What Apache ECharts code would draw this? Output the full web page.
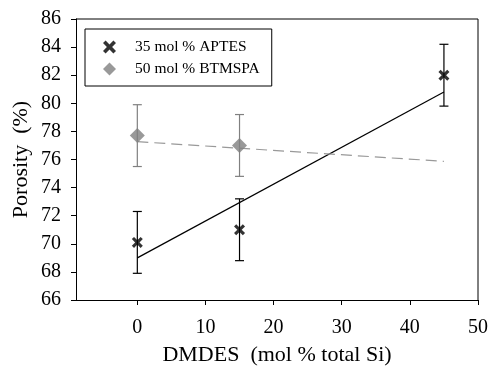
<!DOCTYPE html>
<html><head><meta charset="utf-8">
<script src="https://cdn.jsdelivr.net/npm/echarts@6/dist/echarts.min.js"></script>
<style>html,body{margin:0;padding:0;background:#fff}#c{width:490px;height:366px}</style>
</head><body><div id="c"></div>
<script>
const xTicks = [0, 10, 20, 30, 40, 50];
const aptesX = [0, 15, 45];
const aptesY = [70.1, 71.0, 82.0];
const aptesErr = [2.2, 2.2, 2.2];
const btmspaX = [0, 15];
const btmspaY = [77.7, 77.0];
const btmspaErr = [2.2, 2.2];
const aptesTrend = [[0, 69.0], [45, 80.8]];
const btmspaTrend = [[0, 77.27], [45, 75.87]];
const seriesNames = ['35 mol % APTES', '50 mol % BTMSPA'];

const FONT = 'Liberation Serif';
const xPath = 'path://M0,2 L2,0 L5,3 L8,0 L10,2 L7,5 L10,8 L8,10 L5,7 L2,10 L0,8 L3,5 Z';

function errSeries(xs, ys, es, color) {
  return {
    type: 'custom',
    silent: true,
    z: 1,
    data: xs.map((x, i) => [x, ys[i] - es[i], ys[i] + es[i]]),
    renderItem: function (params, api) {
      const lo = api.coord([api.value(0), api.value(1)]);
      const hi = api.coord([api.value(0), api.value(2)]);
      const w = 4.5;
      const st = { stroke: color, lineWidth: 1.2 };
      return {
        type: 'group',
        children: [
          { type: 'line', shape: { x1: lo[0], y1: lo[1], x2: hi[0], y2: hi[1] }, style: st },
          { type: 'line', shape: { x1: lo[0] - w, y1: lo[1], x2: lo[0] + w, y2: lo[1] }, style: st },
          { type: 'line', shape: { x1: hi[0] - w, y1: hi[1], x2: hi[0] + w, y2: hi[1] }, style: st }
        ]
      };
    }
  };
}

const chart = echarts.init(document.getElementById('c'));
chart.setOption({
  animation: false,
  backgroundColor: '#fff',
  grid: { left: 76, right: 12, top: 19, bottom: 66, containLabel: false, outerBoundsMode: 'none' },
  legend: {
    orient: 'vertical',
    left: 85, top: 29,
    data: [
      { name: seriesNames[0], icon: xPath },
      { name: seriesNames[1], icon: 'diamond' }
    ],
    borderColor: '#000', borderWidth: 1,
    padding: [10, 12, 9, 18],
    itemWidth: 13, itemHeight: 13, itemGap: 6,
    textStyle: { fontFamily: FONT, fontSize: 15.5, color: '#000', padding: [0, 0, 0, 14] }
  },
  xAxis: {
    type: 'value', min: -9, max: 50,
    name: 'DMDES  (mol % total Si)', nameLocation: 'middle', nameGap: 44,
    nameMoveOverlap: false,
    nameTextStyle: { fontFamily: FONT, fontSize: 22, color: '#000' },
    axisLine: { show: true, onZero: false, lineStyle: { color: '#000', width: 1 } },
    axisTick: { show: true, customValues: xTicks, length: 5, lineStyle: { color: '#000' } },
    axisLabel: { customValues: xTicks, fontFamily: FONT, fontSize: 20, color: '#000', margin: 18 },
    splitLine: { show: false }
  },
  yAxis: {
    type: 'value', min: 66, max: 86, interval: 2,
    name: 'Porosity  (%)', nameLocation: 'middle', nameGap: 44,
    nameMoveOverlap: false,
    nameTextStyle: { fontFamily: FONT, fontSize: 22, color: '#000' },
    axisLine: { show: true, onZero: false, lineStyle: { color: '#000', width: 1 } },
    axisTick: { show: true, length: 5, lineStyle: { color: '#000' } },
    axisLabel: { fontFamily: FONT, fontSize: 20, color: '#000', margin: 15 },
    splitLine: { show: false }
  },
  series: [
    errSeries(aptesX, aptesY, aptesErr, '#000'),
    errSeries(btmspaX, btmspaY, btmspaErr, '#808080'),
    {
      type: 'line', data: aptesTrend, symbol: 'none', silent: true, z: 2,
      lineStyle: { color: '#000', width: 1.2 }
    },
    {
      type: 'line', data: btmspaTrend, symbol: 'none', silent: true, z: 2,
      lineStyle: { color: '#999', width: 1.2, type: [11, 6] }
    },
    {
      name: seriesNames[0], type: 'scatter', z: 5,
      data: aptesX.map((x, i) => [x, aptesY[i]]),
      symbol: xPath, symbolSize: 11,
      itemStyle: { color: '#000' }
    },
    {
      name: seriesNames[1], type: 'scatter', z: 5,
      data: btmspaX.map((x, i) => [x, btmspaY[i]]),
      symbol: 'diamond', symbolSize: 15,
      itemStyle: { color: '#808080' }
    }
  ]
});
const tl = chart.convertToPixel({ gridIndex: 0 }, [-9, 86]);
const br = chart.convertToPixel({ gridIndex: 0 }, [50, 66]);
chart.setOption({
  graphic: [{
    type: 'polyline', silent: true,
    shape: { points: [[tl[0], tl[1]], [br[0], tl[1]], [br[0], br[1]]] },
    style: { stroke: '#000', lineWidth: 1, fill: null }
  }]
});
</script></body></html>
